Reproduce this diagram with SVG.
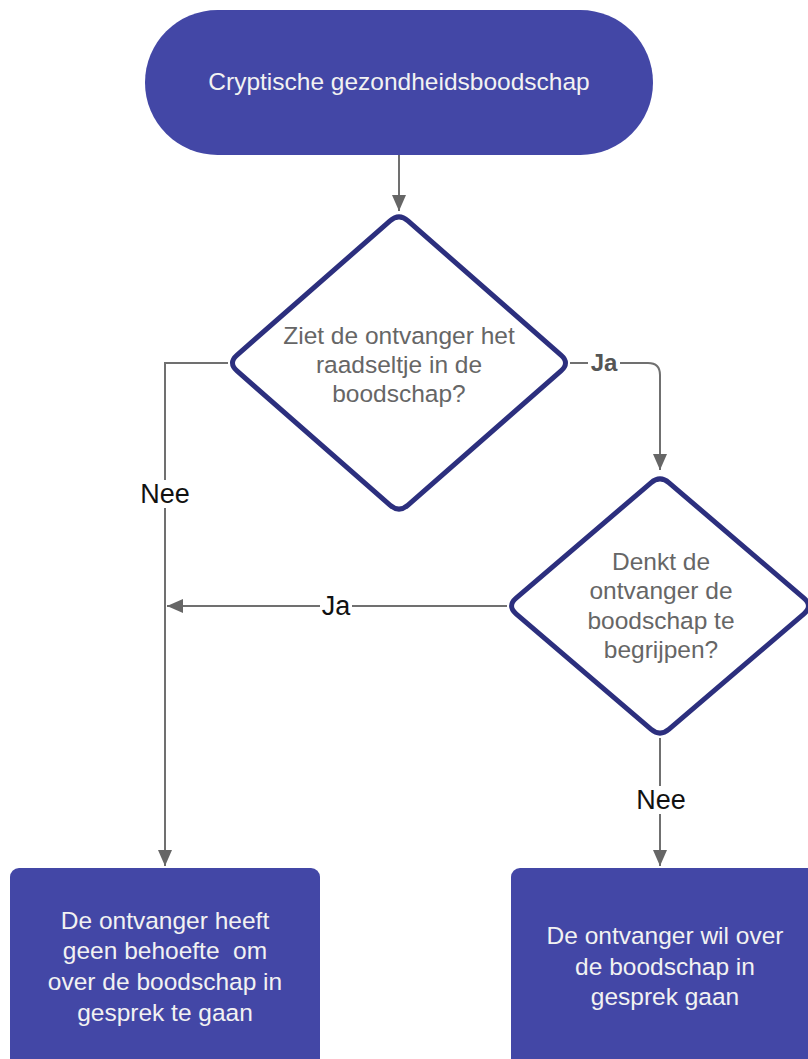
<svg xmlns="http://www.w3.org/2000/svg" width="808" height="1059" viewBox="0 0 808 1059">
<defs>
<style>
.term{fill:#4347a6}
.box{fill:#4347a6}
.dia{fill:#fff;stroke:#2c2f7e;stroke-width:5}
.wt{font-family:"Liberation Sans",Arial,sans-serif;font-size:24.5px;fill:#f2f2f2;text-anchor:middle}
.gt{font-family:"Liberation Sans",Arial,sans-serif;font-size:24.5px;fill:#666;text-anchor:middle}
.conn{fill:none;stroke:#707070;stroke-width:2}
.lbl{font-family:"Liberation Sans",Arial,sans-serif;font-size:27px;fill:#111;text-anchor:middle}
.lblb{font-family:"Liberation Sans",Arial,sans-serif;font-size:24px;font-weight:bold;fill:#555;text-anchor:middle}
</style>
<marker id="arr" markerUnits="userSpaceOnUse" markerWidth="16" markerHeight="16" refX="16" refY="7" orient="auto">
<path d="M0,0 L16,7 L0,14 Z" fill="#666"/>
</marker>
</defs>
<rect width="808" height="1059" fill="#fff"/>
<g id="connectors">
<path class="conn" d="M399,155 L399,211" marker-end="url(#arr)"/>
<path class="conn" d="M570,363 L648,363 Q660,363 660,375 L660,470" marker-end="url(#arr)"/>
<path class="conn" d="M228,363 L165,363 L165,866" marker-end="url(#arr)"/>
<path class="conn" d="M507,606 L167,606" marker-end="url(#arr)"/>
<path class="conn" d="M660,738 L660,866" marker-end="url(#arr)"/>
<rect x="588" y="350" width="32" height="26" fill="#fff"/>
<text class="lblb" x="604" y="371">Ja</text>
<rect x="136" y="480" width="58" height="28" fill="#fff"/>
<text class="lbl" x="165" y="503">Nee</text>
<rect x="320" y="592" width="32" height="28" fill="#fff"/>
<text class="lbl" x="336" y="615">Ja</text>
<rect x="632" y="786" width="58" height="28" fill="#fff"/>
<text class="lbl" x="661" y="809">Nee</text>
</g>
<g id="start">
<rect class="term" x="145" y="10" width="508" height="145" rx="72.5"/>
<text class="wt" x="399" y="90">Cryptische gezondheidsboodschap</text>
</g>
<g id="decision1">
<path class="dia" d="M390,220.9 Q399,213 408,220.9 L561,355.1 Q570,363 561,370.9 L408,505.1 Q399,513 390,505.1 L237,370.9 Q228,363 237,355.1 Z"/>
<text class="gt" x="399" y="344">Ziet de ontvanger het</text>
<text class="gt" x="399" y="373">raadseltje in de</text>
<text class="gt" x="399" y="402">boodschap?</text>
</g>
<g id="decision2">
<path class="dia" d="M650.9,482.8 Q660,475 669.1,482.8 L803.9,598.2 Q813,606 803.9,613.8 L669.1,729.2 Q660,737 650.9,729.2 L516.1,613.8 Q507,606 516.1,598.2 Z"/>
<text class="gt" x="661" y="570">Denkt de</text>
<text class="gt" x="661" y="599">ontvanger de</text>
<text class="gt" x="661" y="629">boodschap te</text>
<text class="gt" x="661" y="658">begrijpen?</text>
</g>
<g id="end-left">
<rect class="box" x="10" y="868" width="310" height="210" rx="9"/>
<text class="wt" x="165" y="929">De ontvanger heeft</text>
<text class="wt" x="165" y="959" xml:space="preserve">geen behoefte  om</text>
<text class="wt" x="165" y="990">over de boodschap in</text>
<text class="wt" x="165" y="1021">gesprek te gaan</text>
</g>
<g id="end-right">
<rect class="box" x="511" y="868" width="310" height="210" rx="9"/>
<text class="wt" x="665" y="944">De ontvanger wil over</text>
<text class="wt" x="665" y="975">de boodschap in</text>
<text class="wt" x="665" y="1005">gesprek gaan</text>
</g>
</svg>
